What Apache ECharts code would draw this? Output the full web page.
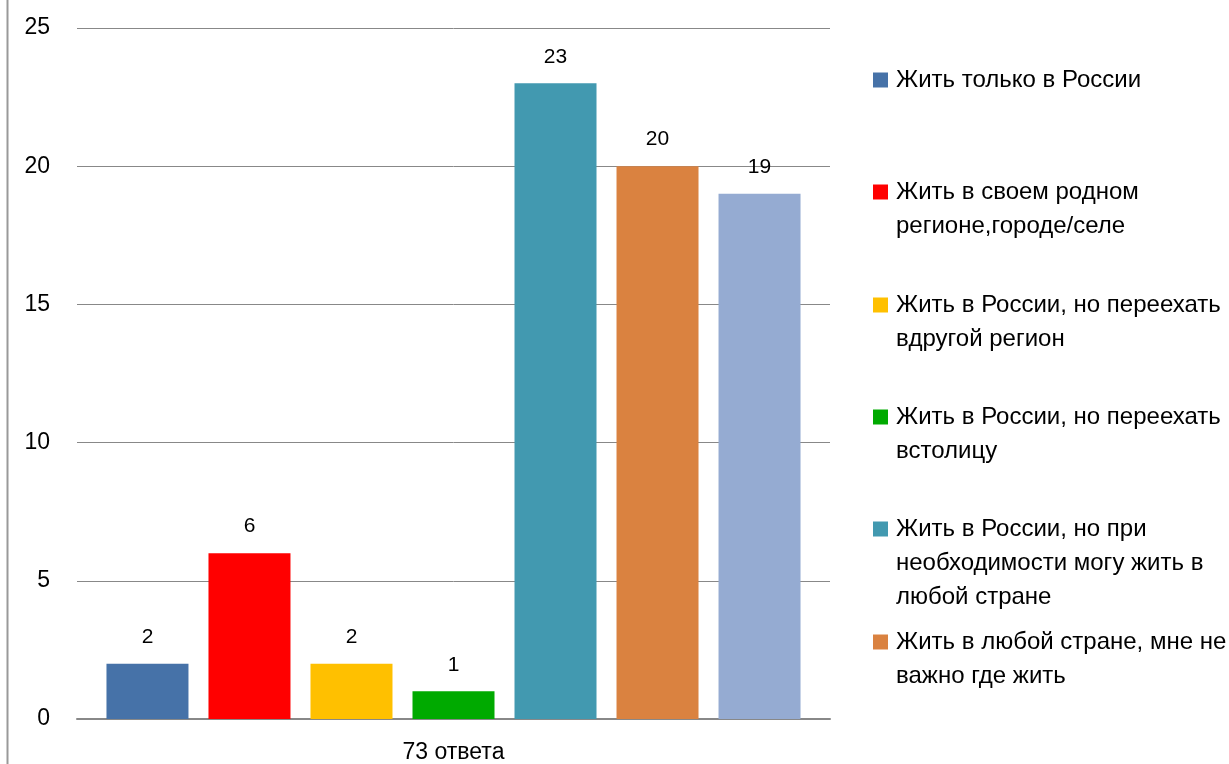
<!DOCTYPE html>
<html>
<head>
<meta charset="utf-8">
<script src="https://cdn.jsdelivr.net/npm/echarts@6/dist/echarts.min.js"></script>
<style>
  html, body { margin: 0; padding: 0; background: #fff; }
  #chart { width: 1229px; height: 764px; }
</style>
</head>
<body>
<div id="chart"></div>
<script>
  // data
  var categories = ['73 ответа'];
  var seriesNames = [
    'Жить только в России',
    'Жить в своем родном\nрегионе,городе/селе',
    'Жить в России, но переехать\nвдругой регион',
    'Жить в России, но переехать\nвстолицу',
    'Жить в России, но при\nнеобходимости могу жить в\nлюбой стране',
    'Жить в любой стране, мне не\nважно где жить',
    'Жить за границей'
  ];
  var seriesValues = [2, 6, 2, 1, 23, 20, 19];
  var colors = ['#4672a8', '#ff0000', '#ffc000', '#00aa00', '#4299b0', '#da8240', '#95abd2'];
  var yTicks = [0, 5, 10, 15, 20, 25];

  var font = 'Liberation Sans, Arial, sans-serif';

  var series = seriesNames.map(function(name, i) {
    return {
      type: 'bar',
      name: name,
      data: [seriesValues[i]],
      barWidth: 82,
      barGap: '24.4%',
      itemStyle: { color: colors[i] },
      label: {
        show: true,
        position: 'top',
        distance: 16,
        fontFamily: font,
        fontSize: 21,
        color: '#000'
      }
    };
  });

  // one legend per item so they sit evenly spaced like the original;
  // blank lines in front keep the icon beside the first text line
  var legendCenters = [80, 192, 305, 417, 529, 642];
  var lineH = 34;
  var legends = legendCenters.map(function(c, i) {
    var n = seriesNames[i].split('\n').length;
    var pad = new Array(n).join('\n');
    return {
      data: [seriesNames[i]],
      left: 873,
      top: c - (2 * n - 1) * lineH / 2,
      orient: 'vertical',
      padding: 0,
      icon: 'rect',
      itemWidth: 15,
      itemHeight: 15,
      selectedMode: false,
      formatter: function(name) { return pad + name; },
      textStyle: {
        fontFamily: font,
        fontSize: 24,
        color: '#000',
        lineHeight: lineH,
        padding: [0, 0, 0, 3]
      }
    };
  });

  var chart = echarts.init(document.getElementById('chart'));
  chart.setOption({
    animation: false,
    color: colors,
    grid: { left: 77, right: 399, top: 28, bottom: 44 },
    legend: legends,
    xAxis: {
      type: 'category',
      data: categories,
      axisLine: { lineStyle: { color: '#888', width: 2 } },
      axisTick: { show: false },
      axisLabel: { fontFamily: font, fontSize: 23, color: '#000', margin: 22 }
    },
    yAxis: {
      type: 'value',
      min: yTicks[0],
      max: yTicks[yTicks.length - 1],
      interval: 5,
      axisLine: { show: false },
      axisTick: { show: false },
      axisLabel: { fontFamily: font, fontSize: 23, color: '#000', margin: 27 },
      splitLine: { lineStyle: { color: '#888', width: 1 } }
    },
    graphic: [{
      type: 'line',
      shape: { x1: 7.5, y1: 0, x2: 7.5, y2: 764 },
      style: { stroke: '#999', lineWidth: 2 }
    }],
    series: series
  });
</script>
</body>
</html>
